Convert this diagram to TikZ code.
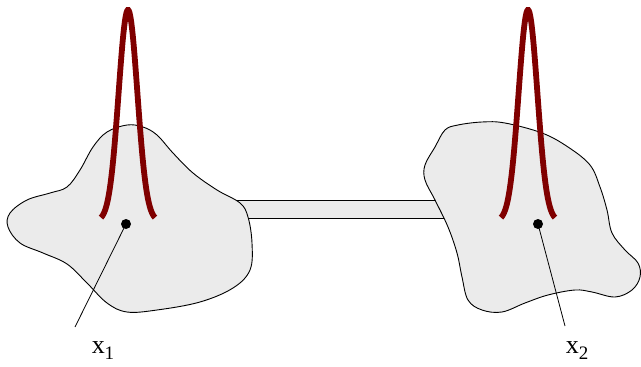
\documentclass[tikz,border=0pt]{standalone}
\usepackage{fontspec}
\setmainfont{Liberation Serif}
\begin{document}
\begin{tikzpicture}[x=1pt,y=-1pt,
  blob/.style={draw=black, line width=0.9pt, fill=black!8},
  peak/.style={draw=red!50!black, line width=5.8pt},
  dotnode/.style={circle, fill=black, inner sep=0pt, minimum size=10pt},
  leader/.style={draw=black, line width=0.8pt},
  lbl/.style={font=\fontsize{26}{26}\selectfont, inner sep=0pt, anchor=base}]
\useasboundingbox (0,0) rectangle (641,367);
% bar
\draw[blob] (230,200) rectangle (450,218);
% left blob
\draw[blob] plot[smooth cycle, tension=0.6] coordinates {
 (127,125) (143,127) (157,135) (173,153) (193,173) (217,190) (240,203)
 (248,217) (252,243) (250,270) (233,288) (200,302) (157,310) (127,312)
 (107,303) (87,283) (67,264) (43,253) (20,243) (8,227) (10,213)
 (27,200) (50,193) (67,187) (80,170) (93,147) (107,132)};
% right blob
\draw[blob] plot[smooth cycle, tension=0.6] coordinates {
 (458,125) (482,122) (505,123) (542,133) (568,147) (590,165) (600,187)
 (607,210) (612,233) (625,250) (638,263) (640,277) (632,290) (615,297)
 (592,292) (575,290) (548,295) (525,303) (502,312) (482,310) (468,300)
 (462,277) (457,253) (448,227) (435,200) (425,180) (425,165) (435,147)
 (445,130)};
% peaks
\draw[peak] plot[domain=-27:27, samples=90] ({128+\x},{221-211*exp(-((\x/13.3)*(\x/13.3)))});
\draw[peak] plot[domain=-27:27, samples=90] ({528+\x},{221-211*exp(-((\x/13.3)*(\x/13.3)))});
% points
\node[dotnode] (p1) at (126,224) {};
\node[dotnode] (p2) at (538,224) {};
\coordinate (e1) at (75,327);
\coordinate (e2) at (565,326);
\draw[leader] (p1.center) -- (e1);
\draw[leader] (p2.center) -- (e2);
\node[lbl] (l1) at (103,353) {x\raisebox{-0.25em}{\fontsize{19}{19}\selectfont 1}};
\node[lbl] (l2) at (577,353) {x\raisebox{-0.25em}{\fontsize{19}{19}\selectfont 2}};
\end{tikzpicture}
\end{document}
